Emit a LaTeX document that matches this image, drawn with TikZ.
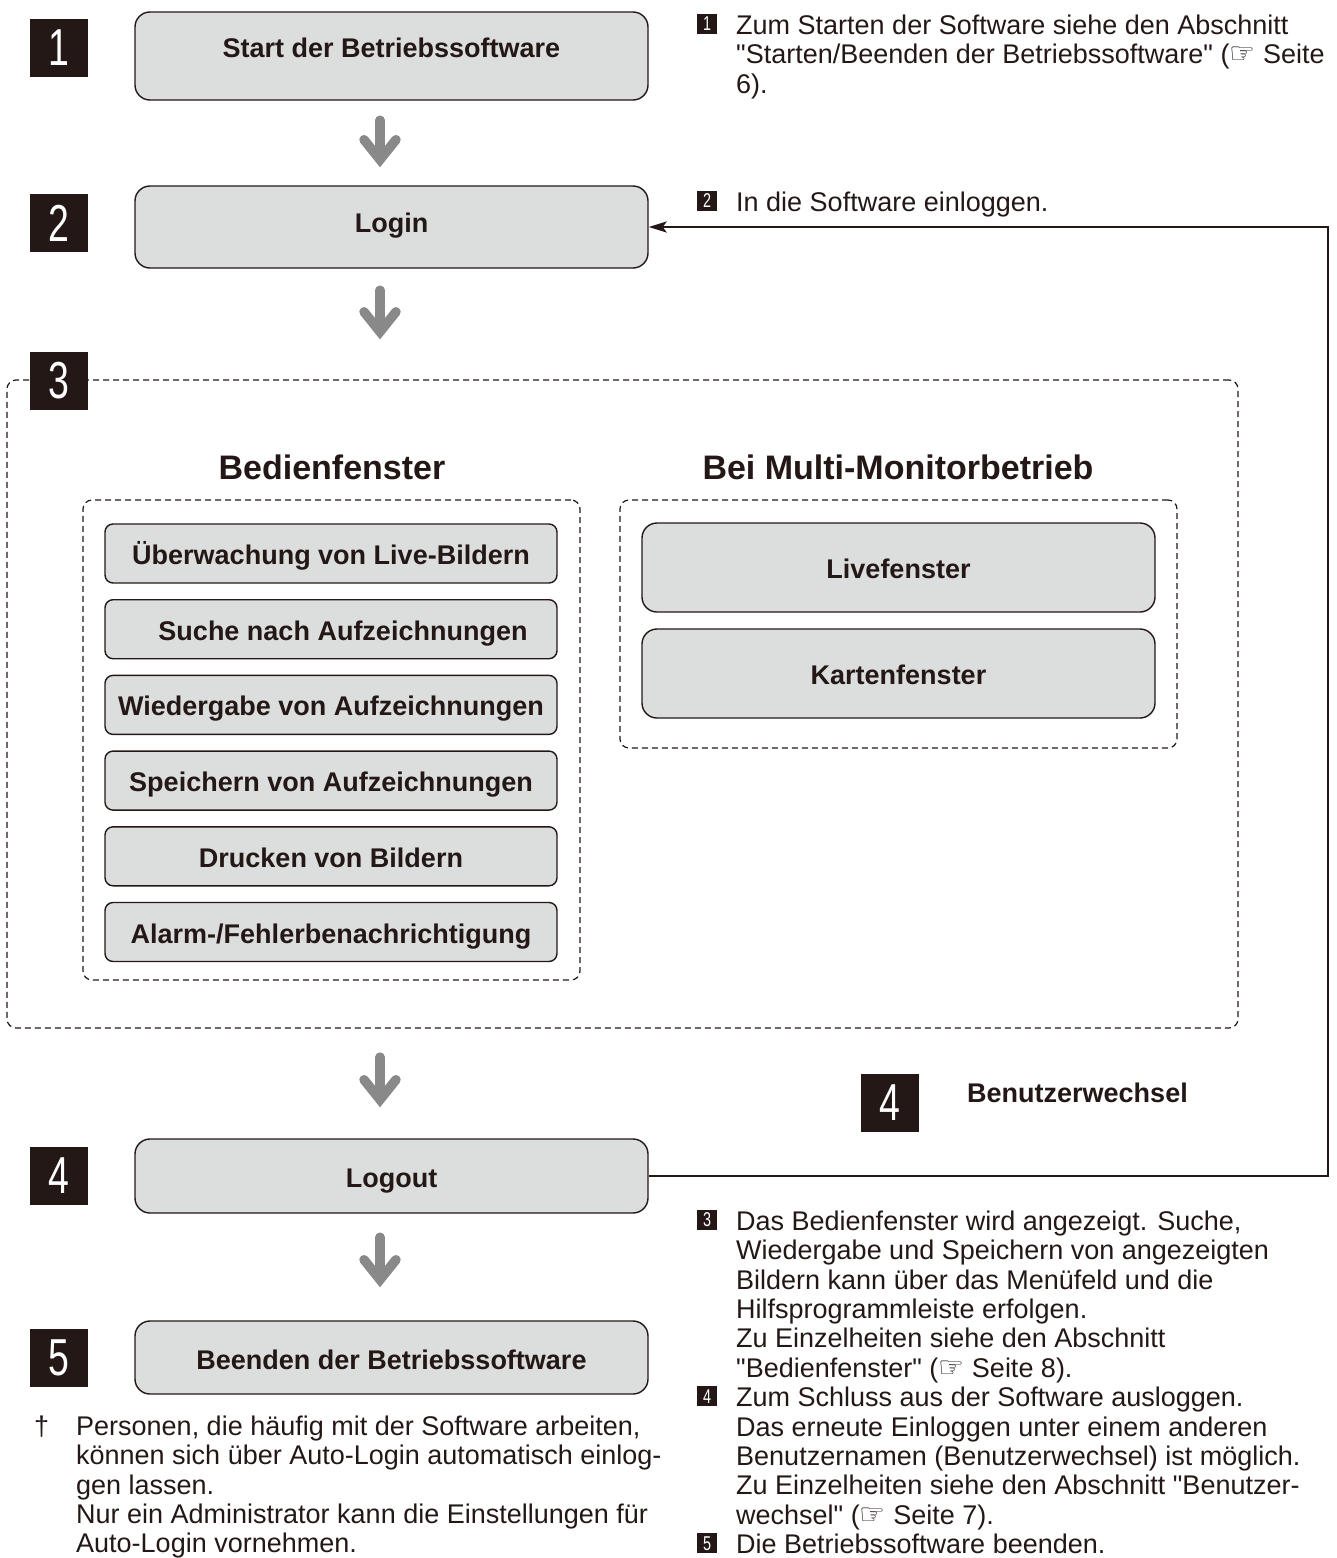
\documentclass[tikz,border=0pt]{standalone}
\usepackage{fontspec}
\setmainfont{Liberation Sans}[Ligatures=TeXOff]
\newfontfamily\numfont{Liberation Sans}[FakeStretch=0.72]
\newfontfamily\symfont{DejaVu Sans}
\usetikzlibrary{arrows.meta}
\definecolor{ink}{HTML}{231815}
\definecolor{boxgray}{HTML}{DCDDDD}
\definecolor{arrowgray}{HTML}{898989}
\newcommand{\seehand}{{\symfont\fontsize{29}{29}\selectfont ☞}}
\begin{document}
\begin{tikzpicture}[x=1pt,y=-1pt,color=ink,
  stepbox/.style={draw=ink,fill=boxgray,line width=1.4pt,rounded corners=15pt,inner sep=0pt,
    minimum width=513pt,font=\bfseries\fontsize{27}{30}\selectfont,text height=22pt,text depth=0pt},
  taskbox/.style={stepbox,rounded corners=8pt,minimum width=452pt,minimum height=59pt},
  winbox/.style={stepbox,minimum height=89pt},
  groupbox/.style={draw=ink,line width=1.2pt,dash pattern=on 6pt off 4pt,rounded corners=9pt,inner sep=0pt},
  numbadge/.style={fill=ink,text=white,minimum size=58pt,inner sep=0pt,font=\numfont\fontsize{52}{52}\selectfont},
  minibadge/.style={fill=ink,text=white,minimum size=20pt,inner sep=0pt,anchor=south west,font=\numfont\fontsize{20}{20}\selectfont},
  heading/.style={font=\bfseries\fontsize{34}{38}\selectfont},
  note/.style={anchor=north west,inner sep=0pt,align=left,font=\fontsize{27}{29.4}\selectfont},
  flow/.style={draw=arrowgray,line width=9.5pt,line cap=round,-{Straight Barb[length=20pt,width=32pt,line cap=round,line join=miter]}},
  back/.style={draw=ink,line width=2.5pt,-{Stealth[length=18pt,width=11pt,inset=4pt]}}]
\useasboundingbox (0,0) rectangle (1336,1558);
% main steps
\node[stepbox,minimum height=88pt,text depth=19.7pt] (start) at (391.5,56) {Start der Betriebssoftware};
\node[stepbox,minimum height=82pt,text depth=11.7pt] (login) at (391.5,227) {Login};
\node[stepbox,minimum height=74pt,text height=23.3pt] (logout) at (391.5,1176) {Logout};
\node[stepbox,minimum height=73pt,text height=24pt] (finish) at (391.5,1357.5) {Beenden der Betriebssoftware};
% operation windows
\node[groupbox,minimum width=1231pt,minimum height=648pt] (stage) at (622.5,704) {};
\node[groupbox,minimum width=497pt,minimum height=480pt] (opgroup) at (331.5,740) {};
\node[groupbox,minimum width=557pt,minimum height=248pt] (mongroup) at (898.5,624) {};
\node[heading] (ophead) at (332,467) {Bedienfenster};
\node[heading] (monhead) at (898,467) {Bei Multi-Monitorbetrieb};
\foreach \t [count=\i from 0] in {Überwachung von Live-Bildern,\hspace*{24pt}Suche nach Aufzeichnungen,
  Wiedergabe von Aufzeichnungen,Speichern von Aufzeichnungen,Drucken von Bildern,Alarm-/Fehlerbenachrichtigung}
  \node[taskbox] (task\i) at (331,{553.5+75.7*\i}) {\t};
\node[winbox] (live) at (898.5,567.5) {Livefenster};
\node[winbox] (map) at (898.5,673.5) {Kartenfenster};
% step numbers
\node[numbadge] (n1) at (59,47.5) {1};
\node[numbadge] (n2) at (59,223) {2};
\node[numbadge] (n3) at (59,381) {3};
\node[numbadge] (n4) at (59,1176) {4};
\node[numbadge] (n5) at (59,1358) {5};
% flow
\coordinate (axis) at (380,0);
\draw[flow,shorten <=19.5pt,shorten >=18pt] (start.south -| axis) -- (login.north -| axis);
\draw[flow,shorten <=21.5pt,shorten >=40pt] (login.south -| axis) -- (stage.north -| axis);
\draw[flow,shorten <=28.5pt,shorten >=31pt] (stage.south -| axis) -- (logout.north -| axis);
\draw[flow,shorten <=23.5pt,shorten >=33pt] (logout.south -| axis) -- (finish.north -| axis);
% user change loop
\coordinate (turn) at (1328,0);
\draw[back,rounded corners=0pt] (logout.east) -- (logout.east -| turn) -- (login.east -| turn) -- (login.east);
\node[numbadge] (n4b) at (890,1103) {4};
\node[anchor=west,inner sep=0pt,font=\bfseries\fontsize{27}{30}\selectfont] (change) at (967,1093) {Benutzerwechsel};
% notes
\node[minibadge] (m1) at (697,34) {1};
\node[note] (t1) at (736,14) {\rule{0pt}{20pt}Zum Starten der Software siehe den Abschnitt\\
  "Starten/Beenden der Betriebssoftware" (\seehand\ Seite\\6).};
\node[minibadge] (m2) at (697,211) {2};
\node[note] (t2) at (736,191) {\rule{0pt}{20pt}In die Software einloggen.};
\node[minibadge] (m3) at (697,1230) {3};
\node[note] (t3) at (736,1210) {\rule{0pt}{20pt}Das Bedienfenster wird angezeigt. Suche,\\
  Wiedergabe und Speichern von angezeigten\\Bildern kann über das Menüfeld und die\\
  Hilfsprogrammleiste erfolgen.\\Zu Einzelheiten siehe den Abschnitt\\"Bedienfenster" (\seehand\ Seite 8).};
\node[minibadge] (m4) at (697,1406.4) {4};
\node[note] (t4) at (736,1386.4) {\rule{0pt}{20pt}Zum Schluss aus der Software ausloggen.\\
  Das erneute Einloggen unter einem anderen\\Benutzernamen (Benutzerwechsel) ist möglich.\\
  Zu Einzelheiten siehe den Abschnitt "Benutzer-\\wechsel" (\seehand\ Seite 7).};
\node[minibadge] (m5) at (697,1553.4) {5};
\node[note] (t5) at (736,1533.4) {\rule{0pt}{20pt}Die Betriebssoftware beenden.};
% footnote
\node[note] (dag) at (34,1415) {\rule{0pt}{20pt}†};
\node[note] (foot) at (76,1415) {\rule{0pt}{20pt}Personen, die häufig mit der Software arbeiten,\\
  können sich über Auto-Login automatisch einlog-\\gen lassen.\\
  Nur ein Administrator kann die Einstellungen für\\Auto-Login vornehmen.};
\end{tikzpicture}
\end{document}
